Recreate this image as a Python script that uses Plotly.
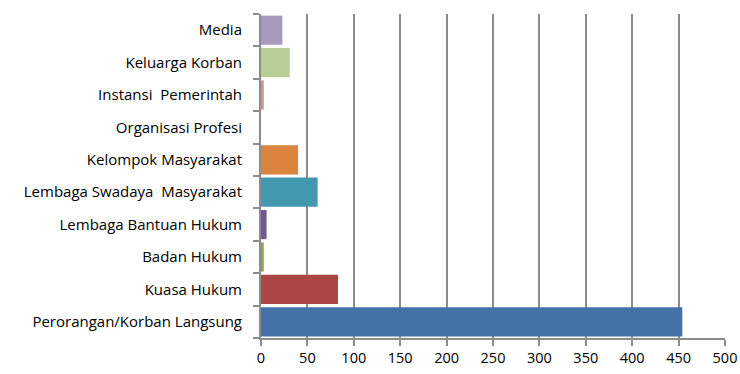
import plotly.graph_objects as go

categories = [
    "Perorangan/Korban Langsung",
    "Kuasa Hukum",
    "Badan Hukum",
    "Lembaga Bantuan Hukum",
    "Lembaga Swadaya  Masyarakat",
    "Kelompok Masyarakat",
    "Organisasi Profesi",
    "Instansi  Pemerintah",
    "Keluarga Korban",
    "Media",
]
values = [454, 83, 3, 6, 61, 40, 0, 3, 31, 23]
colors = ["#4572A7", "#AA4643", "#89A54E", "#71588F", "#4198AF",
          "#DB843D", "#93A9CF", "#D19392", "#B9CD96", "#A99BBD"]
x_ticks = [0, 50, 100, 150, 200, 250, 300, 350, 400, 450, 500]

fig = go.Figure(go.Bar(
    y=categories, x=values, orientation="h",
    marker=dict(color=colors, line=dict(width=0)),
))

fig.update_layout(
    width=740, height=374,
    margin=dict(l=261, r=15, t=14, b=36, autoexpand=False),
    paper_bgcolor="white", plot_bgcolor="white",
    bargap=0.1,
    showlegend=False,
    font=dict(family="Open Sans, sans-serif", size=14, color="#000000"),
)
fig.update_xaxes(
    range=[0, 500], tickvals=x_ticks, ticktext=[str(v) for v in x_ticks],
    showgrid=True, gridcolor="#8C8C8C", gridwidth=2,
    showline=True, linecolor="#8C8C8C", linewidth=2,
    ticks="outside", ticklen=6, tickcolor="#8C8C8C", tickwidth=2,
    zeroline=False, tickfont=dict(size=14.5), automargin=False,
)
fig.update_yaxes(
    categoryorder="array", categoryarray=categories,
    showgrid=False, showline=True, linecolor="#8C8C8C", linewidth=2,
    ticks="outside", ticklen=6, tickcolor="#8C8C8C", tickwidth=2,
    tickson="boundaries", ticklabelstandoff=14, automargin=False,
    tickfont=dict(size=15),
)

fig.write_html("out.html")
